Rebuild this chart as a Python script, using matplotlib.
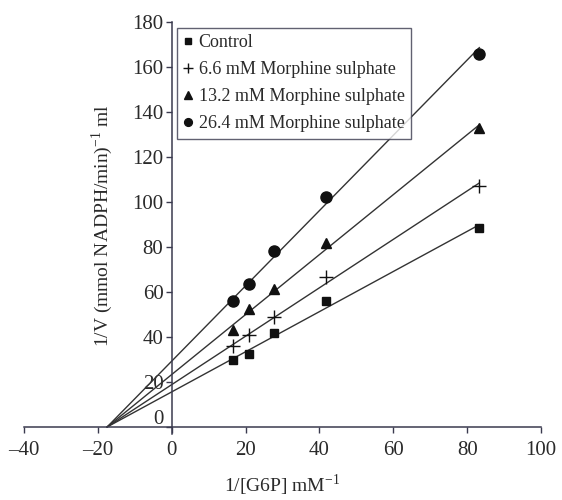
import matplotlib
matplotlib.use("Agg")
import matplotlib.pyplot as plt
import matplotlib.transforms as mtransforms
import numpy as np

# 1/[G6P] (mM^-1) for the five substrate concentrations
inv_s = [16.7, 20.8, 27.8, 41.7, 83.3]

# 1/V values
control = [29.8, 32.4, 41.6, 56.1, 88.3]
morph_6_6 = [36.0, 40.9, 48.8, 66.8, 107.0]
morph_13_2 = [43.1, 52.3, 61.2, 81.6, 132.7]
morph_26_4 = [56.1, 63.6, 78.4, 102.4, 166.0]

# common x-axis intercept (-1/Km) where the lines meet
x_intercept = -17.5

labels = ["Control", "6.6 mM Morphine sulphate",
          "13.2 mM Morphine sulphate", "26.4 mM Morphine sulphate"]
series = [control, morph_6_6, morph_13_2, morph_26_4]
markers = [("s", 6.0, 1.0), ("+", 10.0, 1.0), ("^", 7.5, 1.0), ("o", 8.0, 1.0)]

x_ticks = [-40, -20, 0, 20, 40, 60, 80, 100]
y_ticks = [0, 20, 40, 60, 80, 100, 120, 140, 160, 180]

plt.rcParams["font.family"] = ["Liberation Serif", "DejaVu Serif"]
plt.rcParams["mathtext.fontset"] = "custom"
plt.rcParams["mathtext.rm"] = "Liberation Serif"

axis_col = "#3a3a4e"
text_col = "#2a2a2a"

fig = plt.figure(figsize=(5.62, 5.0), dpi=100)
ax = fig.add_axes([24 / 562, (500 - 433.75) / 500, 517 / 562, 411.75 / 500])

x = np.array(inv_s)
for ys, lab, (m, ms, mew) in zip(series, labels, markers):
    y = np.array(ys)
    # least squares line forced through the common intercept
    d = x - x_intercept
    slope = np.sum(d * y) / np.sum(d * d)
    xl = np.array([x_intercept, x[-1]])
    ax.plot(xl, slope * (xl - x_intercept), color="#333333", lw=1.0, zorder=2)
    ax.plot(x, y, linestyle="none", marker=m, markersize=ms, color="#111111",
            markeredgewidth=mew, label=lab, zorder=3)

ax.set_xlim(-40, 100)
ax.set_ylim(-3, 180)
ax.set_xticks(x_ticks)
ax.set_yticks(y_ticks)
ax.set_xticklabels([str(v).replace("-", "\u2013") for v in x_ticks])

for s in ["top", "right"]:
    ax.spines[s].set_visible(False)
ax.spines["left"].set_position(("data", 0))
ax.spines["bottom"].set_position(("data", 0))
for s in ["left", "bottom"]:
    ax.spines[s].set_color(axis_col)
    ax.spines[s].set_linewidth(1.1)
ax.spines["bottom"].set_bounds(-40, 100)

ax.tick_params(axis="both", colors=axis_col, labelcolor=text_col,
               labelsize=15, length=4, width=1.0)
ax.tick_params(axis="x", pad=6)
ax.tick_params(axis="y", pad=2)

# the "0" label sits a little above its tick in the original
zero_lab = ax.get_yticklabels()[0]
zero_lab.set_transform(zero_lab.get_transform() +
                       mtransforms.ScaledTranslation(0, 7 / 72, fig.dpi_scale_trans))

ax.set_xlabel("1/[G6P] mM$^{\\mathrm{-1}}$", fontsize=14, color=text_col)
ax.set_ylabel("1/V (mmol NADPH/min)$^{\\mathrm{-1}}$ ml", fontsize=14, color=text_col)
ax.xaxis.set_label_coords(0.5, -0.125)
ax.xaxis.label.set_va("center")
ax.yaxis.set_label_coords(0.151, 0.505)
ax.yaxis.label.set_va("center")

leg = ax.legend(loc="upper left", bbox_to_anchor=(0.296, 0.985), fontsize=13,
                frameon=True, fancybox=False, edgecolor=axis_col,
                handlelength=0.5, handletextpad=0.35, labelspacing=0.55,
                borderpad=0.35, borderaxespad=0, markerscale=0.7)
leg.get_frame().set_linewidth(1.0)
for t in leg.get_texts():
    t.set_color(text_col)

fig.savefig("out.png", dpi=100)
